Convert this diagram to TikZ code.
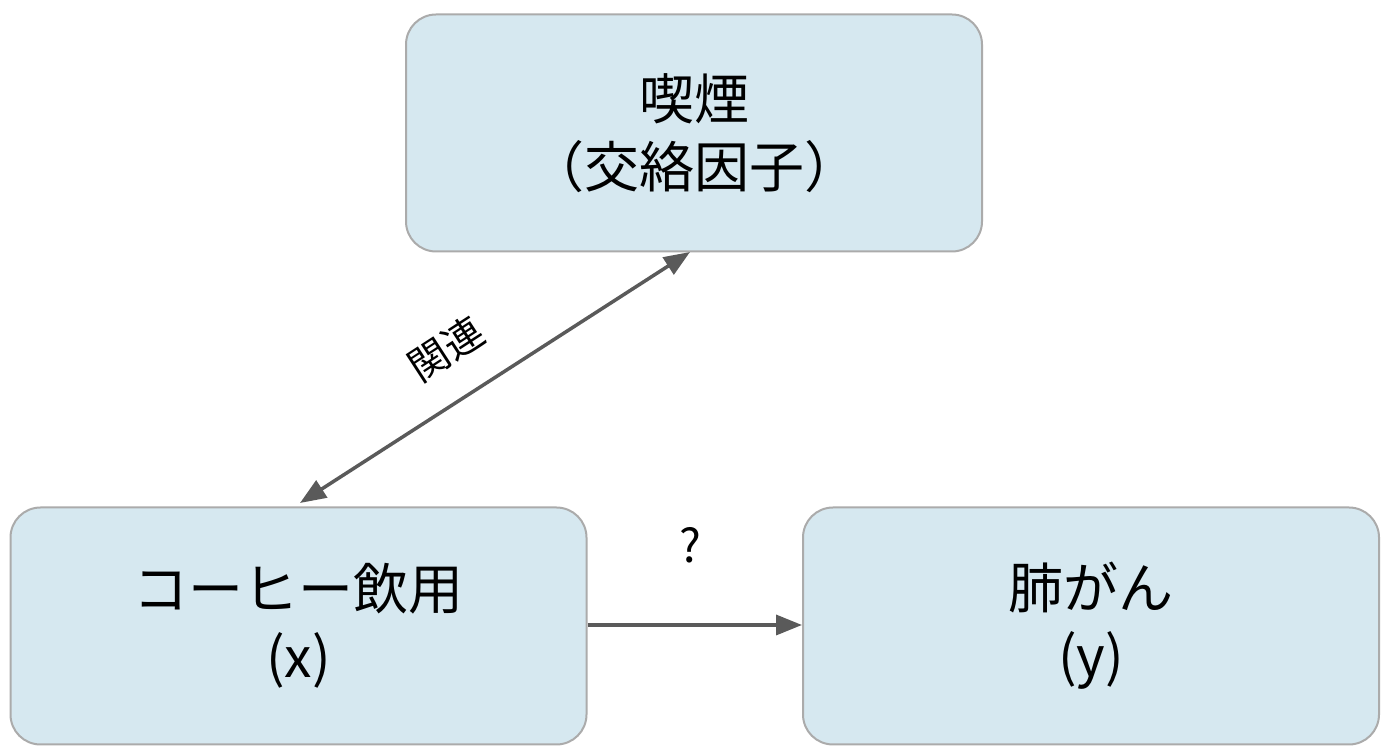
\documentclass[tikz,border=0pt]{standalone}
\usepackage{fontspec}
\setmainfont{Noto Sans CJK JP}
\usetikzlibrary{arrows.meta}
\definecolor{boxfill}{HTML}{D6E8F0}
\definecolor{boxline}{HTML}{ABABAB}
\definecolor{arr}{HTML}{5A5A5A}
\begin{document}
\begin{tikzpicture}[x=1pt,y=1pt,
  box/.style={draw=boxline,line width=2pt,fill=boxfill,rounded corners=30pt,minimum width=576pt,minimum height=237pt,align=center,font=\fontsize{55}{68}\selectfont},
  con/.style={draw=arr,line width=3.5pt,-{Triangle[length=26pt,width=20pt]}}]
\useasboundingbox (0,0) rectangle (1382,752);
\node[box] (s) at (694,619) {喫煙\\（交絡因子）};
\node[box] (c) at (298.5,126) {コーヒー飲用\\(x)};
\node[box] (l) at (1091,126) {肺がん\\(y)};
\coordinate (a1) at (690,500);
\coordinate (a2) at (300,249);
\draw[con,{Triangle[length=26pt,width=20pt]}-{Triangle[length=26pt,width=20pt]}] (a1) -- (a2);
\node[rotate=33,font=\fontsize{40}{44}\selectfont,inner sep=0pt] (rel) at (446,403) {関連};
\draw[con] (c.east |- 0,127) -- (l.west |- 0,127);
\node[font=\fontsize{46}{50}\selectfont] (q) at (690,207) {?};
\end{tikzpicture}
\end{document}
